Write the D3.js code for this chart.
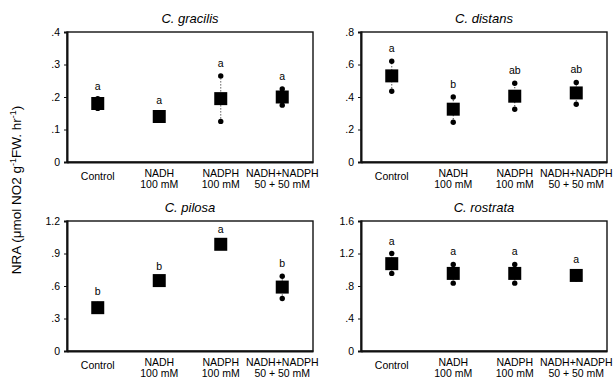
<!DOCTYPE html>
<html lang="en">
<head>
    <meta charset="UTF-8">
    <title>NRA</title>
    <script src="https://d3js.org/d3.v7.min.js"></script>
    <style>
        body { margin: 0; background: #fff; }
        text { font-family: "Liberation Sans", Arial, sans-serif; fill: #000; }
    </style>
</head>
<body>
<script>
    // categories on the x axis (second line after "|")
    var categories = ['Control', 'NADH|100 mM', 'NADPH|100 mM', 'NADH+NADPH|50 + 50 mM'];
    var species = ['C. gracilis', 'C. distans', 'C. pilosa', 'C. rostrata'];
    var yMax = [0.4, 0.8, 1.2, 1.6];
    var yStep = [0.1, 0.2, 0.3, 0.4];
    // means and the two replicate dots
    var means = [[0.18, 0.14, 0.195, 0.2], [0.53, 0.325, 0.405, 0.425], [0.40, 0.65, 0.985, 0.59], [1.075, 0.955, 0.955, 0.93]];
    var lows = [[0.165, 0.13, 0.125, 0.175], [0.435, 0.245, 0.325, 0.355], [0.37, 0.64, 0.96, 0.485], [0.955, 0.835, 0.835, 0.89]];
    var highs = [[0.195, 0.15, 0.265, 0.225], [0.62, 0.4, 0.485, 0.49], [0.43, 0.665, 1.01, 0.69], [1.2, 1.065, 1.065, 0.97]];
    var letters = [['a', 'a', 'a', 'a'], ['a', 'b', 'ab', 'ab'], ['b', 'b', 'a', 'b'], ['a', 'a', 'a', 'a']];

    var width = 616, height = 379;
    var svg = d3.select('body').append('svg').attr('width', width).attr('height', height);

    var pw = 246, ph = 130;
    var lefts = [67, 361], tops = [32, 221];

    var fmt = function (v) {
        if (v === 0) return '0';
        var s = d3.format('.1f')(v);
        return s.indexOf('0.') === 0 ? s.slice(1) : s;
    };

    species.forEach(function (name, k) {
        var g = svg.append('g')
            .attr('transform', 'translate(' + lefts[k % 2] + ',' + tops[Math.floor(k / 2)] + ')');

        var x = d3.scaleBand().domain(categories).range([0, pw]);
        var y = d3.scaleLinear().domain([0, yMax[k]]).range([ph, 0]);

        // frame
        g.append('rect').attr('width', pw).attr('height', ph)
            .attr('fill', 'none').attr('stroke', '#111').attr('stroke-width', 1.4);

        // y axis
        var ya = g.append('g').call(d3.axisLeft(y)
            .tickValues(d3.range(0, yMax[k] + 1e-9, yStep[k]))
            .tickSize(3).tickFormat(fmt));
        ya.select('.domain').attr('stroke-width', 2).attr('stroke', '#111');
        ya.selectAll('.tick line').attr('stroke', '#111');
        ya.selectAll('text').attr('font-size', 10.5).attr('dx', -1).attr('fill', '#000');

        // x axis
        var xa = g.append('g').attr('transform', 'translate(0,' + ph + ')')
            .call(d3.axisBottom(x).tickSize(0).tickFormat(''));
        xa.select('.domain').attr('stroke-width', 2).attr('stroke', '#111');
        xa.selectAll('.tick').each(function (d) {
            var lines = d.split('|');
            var t = d3.select(this).append('text')
                .attr('text-anchor', 'middle').attr('font-size', 10.5).attr('fill', '#000');
            lines.forEach(function (ln, j) {
                t.append('tspan').attr('x', 0).attr('y', (lines.length === 1 ? 18 : 15) + j * 11).text(ln);
            });
        });

        // title
        g.append('text').attr('x', pw / 2).attr('y', -9)
            .attr('text-anchor', 'middle').attr('font-size', 13)
            .attr('font-style', 'italic').text(name);

        var cx = function (i) { return x(categories[i]) + x.bandwidth() / 2; };

        categories.forEach(function (c, i) {
            // dotted range line
            g.append('line').attr('x1', cx(i)).attr('x2', cx(i))
                .attr('y1', y(lows[k][i])).attr('y2', y(highs[k][i]))
                .attr('stroke', '#111').attr('stroke-width', 1).attr('stroke-dasharray', '1,2');
            [lows[k][i], highs[k][i]].forEach(function (v) {
                g.append('circle').attr('cx', cx(i)).attr('cy', y(v)).attr('r', 2.7).attr('fill', '#000');
            });
            g.append('rect').attr('x', cx(i) - 6.5).attr('y', y(means[k][i]) - 6.5)
                .attr('width', 13).attr('height', 13).attr('fill', '#000');
            g.append('text').attr('x', cx(i)).attr('y', y(highs[k][i]) - 9)
                .attr('text-anchor', 'middle').attr('font-size', 10.5).text(letters[k][i]);
        });
    });

    // shared y label
    svg.append('text')
        .attr('transform', 'translate(21,190) rotate(-90)')
        .attr('text-anchor', 'middle').attr('font-size', 13.5)
        .html('NRA (μmol NO2 g<tspan dy="-5" font-size="9">-1</tspan><tspan dy="5">FW. hr</tspan><tspan dy="-5" font-size="9">-1</tspan><tspan dy="5">)</tspan>');
</script>
</body>
</html>
